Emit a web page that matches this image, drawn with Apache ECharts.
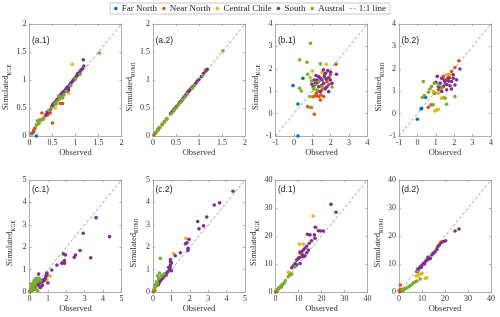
<!DOCTYPE html>
<html><head><meta charset="utf-8">
<script src="https://cdn.jsdelivr.net/npm/echarts@6/dist/echarts.min.js"></script>
<style>html,body{margin:0;padding:0;background:#fff}#c{width:500px;height:317px}</style>
</head><body><div id="c"></div>
<script>
const regions = ['Far North','Near North','Central Chile','South','Austral'];
const regionColors = ['#0072BD','#D95319','#EDB120','#7E2F8E','#77AC30'];
const panelLabels = ['(a.1)','(a.2)','(b.1)','(b.2)','(c.1)','(c.2)','(d.1)','(d.2)'];
const panelMetric = ['KGE','RUMI','KGE','RUMI','KGE','RUMI','KGE','RUMI'];
const panelMin = [0,0,-1,-1,0,0,0,0];
const panelMax = [2,2,4,4,5,5,40,40];
const panelStep = [0.5,0.5,1,1,1,1,10,10];
const xName = 'Observed';
const yName = 'Simulated';
const lineName = '1:1 line';

// (a.1)
const a1FarNorth = [[0.15,0.0],[0.05,0.04],[0.09,0.07]];
const a1NearNorth = [[0.04,0.05],[0.09,0.1],[0.12,0.14],[0.27,0.41],[0.5,0.23],[0.67,0.58],[0.72,0.58],[0.38,0.43],[0.42,0.43],[0.45,0.41],[0.4,0.38],[0.2,0.26],[0.23,0.29],[0.53,0.56],[0.35,0.36],[0.3,0.3]];
const a1Central = [[0.93,1.28],[0.98,1.0],[0.22,0.23],[0.31,0.31],[0.73,0.71],[0.85,0.77],[0.56,0.5]];
const a1South = [[0.36,0.38],[0.4,0.42],[0.45,0.47],[0.48,0.52],[0.5,0.55],[0.52,0.58],[0.55,0.6],[0.58,0.63],[0.6,0.65],[0.62,0.66],[0.65,0.7],[0.68,0.74],[0.7,0.75],[0.72,0.78],[0.75,0.8],[0.78,0.82],[0.8,0.85],[0.83,0.88],[0.85,0.86],[0.88,0.92],[0.9,0.95],[0.93,0.97],[0.95,1.0],[0.98,1.02],[1.0,1.05],[1.03,1.08],[1.05,1.12],[1.08,1.1],[1.1,1.15],[1.12,1.18],[1.15,1.2],[1.17,1.36],[1.18,1.25],[0.8,0.8],[0.85,0.82]];
const a1Austral = [[0.17,0.27],[0.15,0.2],[0.2,0.22],[0.25,0.28],[0.3,0.32],[0.42,0.45],[0.48,0.5],[0.55,0.58],[0.6,0.62],[0.63,0.72],[0.68,0.7],[0.72,0.68],[0.75,0.74],[0.8,0.8],[0.9,0.9],[1.0,1.02],[1.1,1.1],[1.52,1.48],[0.58,0.57],[0.65,0.66]];
// (a.2)
const a2FarNorth = [[0.05,0.05],[0.12,0.13]];
const a2NearNorth = [[0.02,0.02],[0.06,0.06],[0.1,0.1],[0.14,0.15],[0.2,0.2],[0.25,0.26],[0.3,0.3],[0.4,0.41],[0.45,0.45],[0.72,0.73],[0.76,0.8]];
const a2Central = [[0.75,0.8],[1.13,1.18],[0.28,0.3],[0.6,0.62],[0.22,0.23]];
const a2South = [[0.38,0.4],[0.42,0.44],[0.46,0.48],[0.5,0.52],[0.55,0.56],[0.58,0.6],[0.62,0.63],[0.65,0.67],[0.68,0.7],[0.72,0.74],[0.75,0.77],[0.78,0.8],[0.8,0.82],[0.83,0.85],[0.86,0.88],[0.9,0.91],[0.93,0.94],[0.96,0.98],[1.0,1.01],[1.05,1.06],[1.1,1.12],[1.15,1.16],[1.18,1.19],[0.7,0.71],[0.85,0.86]];
const a2Austral = [[0.05,0.05],[0.1,0.1],[0.15,0.15],[0.2,0.21],[0.25,0.25],[0.3,0.31],[0.45,0.46],[0.5,0.5],[0.55,0.56],[0.6,0.6],[0.65,0.65],[0.7,0.7],[0.75,0.75],[0.85,0.85],[0.9,0.9],[1.52,1.52],[0.4,0.4],[1.08,1.08]];
// (b.1)
const b1FarNorth = [[0.49,1.58],[-0.05,1.25],[0.22,0.43],[0.22,-1.0]];
const b1NearNorth = [[1.11,-0.03],[0.75,0.31],[0.95,0.27],[1.25,0.79],[1.36,0.76],[1.47,0.83],[1.62,0.76],[1.53,1.06],[1.8,1.43],[2.29,2.2],[1.98,1.73],[1.67,1.76],[1.22,0.91],[1.44,0.61],[1.05,0.75],[1.15,0.8],[1.7,1.1],[1.9,1.3],[1.3,1.0]];
const b1Central = [[1.76,2.2],[1.53,1.83],[0.89,1.61],[1.07,1.06],[1.85,1.58],[1.0,1.9],[1.4,1.6]];
const b1South = [[1.84,1.92],[2.31,1.76],[1.25,1.5],[1.44,1.58],[1.62,1.35],[1.35,1.2],[1.71,1.13],[1.98,1.5],[1.16,1.35],[0.98,1.31],[1.53,1.5],[1.8,1.2],[2.07,1.35],[1.35,1.65],[1.71,1.8],[1.89,0.98],[1.44,0.98],[1.6,1.95],[1.2,1.7],[1.05,1.2],[1.9,1.6],[1.5,1.25],[1.3,1.4],[1.75,1.55],[2.0,1.85],[1.1,1.5],[1.65,1.65]];
const b1Austral = [[0.91,3.14],[0.31,2.4],[0.71,2.29],[1.44,2.22],[0.75,1.76],[0.31,1.13],[0.4,1.01],[0.89,0.27],[0.89,0.76],[1.16,1.28],[1.53,1.2],[2.07,1.19],[1.07,1.13],[1.35,1.43],[0.95,1.45],[1.25,1.05]];
// (b.2)
const b2FarNorth = [[0,-0.25],[0.2,0.21],[0.45,0.72],[0.23,0.24]];
const b2NearNorth = [[2.25,2.36],[2.04,2.06],[0.59,0.28],[0.74,0.39],[1.86,1.88],[1.68,1.73],[1.41,1.66],[1.14,1.06],[1.59,1.51],[0.92,0.91],[1.5,1.3],[1.75,1.6]];
const b2Central = [[0.95,0.12],[1.05,0.16],[1.14,0.19],[1.41,0.72],[1.32,0.69],[1.77,1.76],[1.59,1.73],[1.14,0.91],[0.86,0.99]];
const b2South = [[1.08,1.66],[1.32,1.58],[1.5,1.43],[1.86,1.43],[2.04,1.28],[2.31,1.99],[1.23,1.36],[1.68,1.58],[1.77,1.24],[1.41,1.21],[1.59,1.06],[1.95,1.58],[1.14,1.21],[1.32,0.99],[1.95,1.73],[2.13,1.51],[1.6,1.3],[1.25,1.15],[1.45,1.5],[1.7,1.45],[1.0,1.4],[1.85,1.1]];
const b2Austral = [[0.32,1.43],[0.38,0.81],[0.27,0.72],[0.86,0.39],[1.59,0.42],[2.04,0.76],[1.5,0.69],[0.68,1.1],[0.92,1.36],[1.14,1.28],[1.32,1.13],[0.95,0.91],[0.77,1.21],[0.6,0.95]];
// (c.1)
const c1FarNorth = [[0.02,0.01]];
const c1NearNorth = [[0.02,0.02],[0.05,0.01],[0.1,0.05],[0.06,0.08]];
const c1Central = [[0.5,0.2],[0.3,0.15],[1.12,0.71],[1.79,1.35],[0.95,0.55]];
const c1South = [[3.62,3.32],[4.35,2.47],[3.33,1.53],[2.75,1.85],[2.92,2.62],[2.43,1.55],[2.5,1.65],[1.85,1.7],[1.96,1.65],[1.9,1.4],[1.76,1.28],[1.9,1.28],[1.49,1.2],[1.21,0.98],[0.5,0.3],[0.55,0.4],[0.6,0.45],[0.65,0.5],[0.7,0.45],[0.75,0.55],[0.8,0.5],[0.85,0.6],[0.9,0.7],[0.95,0.75],[0.95,0.85],[0.92,0.8],[1.0,0.4],[0.5,0.8],[0.4,0.35],[0.3,0.25],[0.25,0.2],[0.2,0.1],[0.7,0.3],[0.6,0.2]];
const c1Austral = [[0.05,0.05],[0.1,0.15],[0.15,0.3],[0.2,0.4],[0.25,0.5],[0.3,0.55],[0.35,0.6],[0.45,0.62],[0.5,0.55],[0.55,0.6],[0.6,0.5],[0.4,0.45],[0.12,0.1],[0.18,0.2],[0.22,0.15],[0.3,0.3],[0.08,0.35],[0.1,0.25],[0.35,0.1],[0.45,0.05]];
// (c.2)
const c2FarNorth = [[0.02,0.01]];
const c2NearNorth = [[0.02,0.02],[0.05,0.03],[0.1,0.08],[0.06,0.1]];
const c2Central = [[1.79,2.4],[1.12,1.72],[0.5,0.55],[0.3,0.35],[0.95,1.0]];
const c2South = [[3.62,3.98],[4.35,4.5],[3.33,3.88],[2.92,3.35],[2.75,2.95],[2.43,3.15],[2.5,2.82],[1.85,2.2],[1.96,2.35],[1.9,1.95],[1.76,2.15],[1.9,1.85],[1.49,1.75],[1.21,1.62],[0.4,0.5],[0.5,0.6],[0.6,0.7],[0.7,0.75],[0.75,0.85],[0.8,0.9],[0.9,1.0],[0.95,1.2],[0.95,1.35],[0.95,1.45],[1.0,1.3],[0.85,1.1],[0.3,0.35],[0.25,0.3],[0.35,0.45],[0.65,0.8],[0.55,0.65],[1.0,0.95],[0.92,1.1]];
const c2Austral = [[0.4,1.5],[0.25,0.72],[0.35,0.85],[0.3,0.6],[0.2,0.45],[0.15,0.35],[0.1,0.2],[0.05,0.1],[0.45,0.7],[0.5,0.75],[0.2,0.3],[0.25,0.4],[0.12,0.25],[0.6,0.8]];
// (d.1)
const d1FarNorth = [[0.1,0.1],[0.4,0.2]];
const d1NearNorth = [[0.1,0],[0.6,0.5],[1.3,1.1],[2.3,1.7],[2.7,2.1],[1.7,1.7]];
const d1Central = [[16.3,27.1],[17.6,23.1],[10.4,17.1],[12.1,17.1],[10,12.4],[5.6,7.0],[6.3,6.7],[11,13.8],[10.4,14.4]];
const d1South = [[24.1,31.3],[26.3,28.5],[18.6,21.9],[19.6,21.8],[20.8,21.8],[17.3,23.1],[16.9,20.4],[17.2,19.2],[15,20.4],[13.9,20.6],[15.7,18.3],[14.7,17.4],[13.6,16.4],[12.8,15.6],[12.1,15],[11.4,14.4],[10.7,14],[11.8,13.2],[10.7,12.4],[10,12],[9.2,11.4],[8.5,10.2],[7.8,9.4],[7.1,8.7],[12.1,12.6],[14.3,15],[9.2,9.6],[10.7,10.2],[12.8,12.9],[13.6,14.0]];
const d1Austral = [[4.2,4.0],[8.5,9.0],[6.3,6.1],[5.6,5.5],[2.7,2.5],[2.0,1.9],[1.3,1.3],[0.6,0.7],[3.2,2.9],[3.8,3.1],[7.1,6.4]];
// (d.2)
const d2FarNorth = [[0.3,0.1]];
const d2NearNorth = [[0.6,2.5],[0.1,0.5],[0.7,1.0],[1.3,0.4],[2.0,0.7]];
const d2Central = [[17.5,17.1],[18.2,18],[12.8,12.4],[11.4,4.9],[12.1,5.1],[9.7,6.4],[7.4,5.7],[8.2,5.7],[8.5,6.3],[10,6.7]];
const d2South = [[26.1,22.5],[24.4,21.8],[20.3,18.3],[19.3,18],[18.3,17.6],[17.6,16.8],[16.9,16.2],[15.7,14.4],[15,13.8],[13.6,12],[12.8,11.7],[12.1,11.4],[11.4,10.8],[10.7,10.2],[10,9.6],[9.2,9.0],[8.5,8.1],[7.8,7.3],[8.2,8.2],[14.3,13.2],[12.6,12.4],[16.5,15.2],[11.1,10],[9.7,8.8]];
const d2Austral = [[9.2,4.6],[7.8,3.9],[5.6,2.7],[4.9,2.3],[4.2,1.9],[3.5,1.5],[2.7,1.2],[2.0,1.0],[1.3,0.6],[8.2,7.3],[6.3,3.3],[7.1,3.6]];

const panelData = [
  [a1FarNorth,a1NearNorth,a1Central,a1South,a1Austral],
  [a2FarNorth,a2NearNorth,a2Central,a2South,a2Austral],
  [b1FarNorth,b1NearNorth,b1Central,b1South,b1Austral],
  [b2FarNorth,b2NearNorth,b2Central,b2South,b2Austral],
  [c1FarNorth,c1NearNorth,c1Central,c1South,c1Austral],
  [c2FarNorth,c2NearNorth,c2Central,c2South,c2Austral],
  [d1FarNorth,d1NearNorth,d1Central,d1South,d1Austral],
  [d2FarNorth,d2NearNorth,d2Central,d2South,d2Austral]
];

const SERIF = 'Liberation Serif';
const W = 92, H = 112;
const colLeft = [29.5, 153, 275.5, 399];
const rowTop = [24, 180];
const frameColor = '#9a9a9a';
const textColor = '#333';

const grids = [], xAxes = [], yAxes = [], series = [], titles = [];
for (let p = 0; p < 8; p++) {
  const left = colLeft[p % 4], top = rowTop[Math.floor(p / 4)];
  grids.push({left: left, top: top, width: W, height: H});
  const common = {
    gridIndex: p, type: 'value', min: panelMin[p], max: panelMax[p], interval: panelStep[p],
    splitLine: {show: false},
    axisLine: {show: true, onZero: false, lineStyle: {color: frameColor, width: 0.8}},
    axisTick: {show: true, inside: true, length: 2, lineStyle: {color: frameColor, width: 0.8}}
  };
  xAxes.push(Object.assign({}, common, {
    position: 'bottom',
    axisLabel: {show: true, margin: 3, fontFamily: SERIF, fontSize: 8, color: textColor, showMinLabel: true, showMaxLabel: true},
    name: xName, nameLocation: 'middle', nameGap: 12,
    nameTextStyle: {fontFamily: SERIF, fontSize: 8.5, color: textColor}
  }));
  xAxes.push(Object.assign({}, common, {position: 'top', axisLabel: {show: false}}));
  yAxes.push(Object.assign({}, common, {
    position: 'left',
    axisLabel: {show: true, margin: 3, fontFamily: SERIF, fontSize: 8, color: textColor, showMinLabel: true, showMaxLabel: true},
    name: '{s|' + yName + '}{k|' + panelMetric[p] + '}', nameLocation: 'middle', nameGap: 13,
    nameTextStyle: {
      fontFamily: SERIF, fontSize: 8.5, color: textColor, padding: [0, 14, 0, 0],
      rich: {
        s: {fontFamily: SERIF, fontSize: 8.5, color: textColor, lineHeight: 13},
        k: {fontFamily: SERIF, fontSize: 5.5, color: textColor, lineHeight: 13, verticalAlign: 'bottom'}
      }
    }
  }));
  yAxes.push(Object.assign({}, common, {position: 'right', axisLabel: {show: false}}));

  series.push({
    name: lineName, type: 'line', xAxisIndex: 2 * p, yAxisIndex: 2 * p,
    data: [[panelMin[p], panelMin[p]], [panelMax[p], panelMax[p]]],
    symbol: 'none', silent: true, z: 1,
    itemStyle: {color: '#8a8a8a'},
    lineStyle: {color: '#8a8a8a', width: 0.8, type: [3, 2]}
  });
  for (let r = 0; r < 5; r++) {
    series.push({
      name: regions[r], type: 'scatter', xAxisIndex: 2 * p, yAxisIndex: 2 * p,
      data: panelData[p][r], symbol: 'circle', symbolSize: 3.6, clip: false, z: 2 + r,
      itemStyle: {color: regionColors[r], opacity: 1}
    });
  }
  titles.push({
    text: panelLabels[p], left: left + 2.5, top: (p < 4 ? 36.5 : 185.5), padding: 0,
    textStyle: {fontFamily: 'Liberation Sans', fontSize: 8.5, fontWeight: 'normal', color: '#222'}
  });
}

const legendData = regions.map(n => ({name: n, icon: 'circle'}));
legendData.push({name: lineName, icon: 'path://M0,0H3V1H0Z M5,0H8V1H5Z'});

const chart = echarts.init(document.getElementById('c'), null, {renderer: 'canvas'});
chart.setOption({
  animation: false,
  backgroundColor: '#fff',
  title: titles,
  legend: {
    data: legendData, top: 3, left: 'center', orient: 'horizontal',
    itemWidth: 6, itemHeight: 3.6, itemGap: 5, padding: [1, 4],
    borderColor: '#c8c8c8', borderWidth: 1, backgroundColor: '#fff',
    selectedMode: false,
    textStyle: {fontFamily: SERIF, fontSize: 9, color: '#222', padding: [0, 0, 0, -2]}
  },
  grid: grids, xAxis: xAxes, yAxis: yAxes, series: series
});
</script></body></html>
